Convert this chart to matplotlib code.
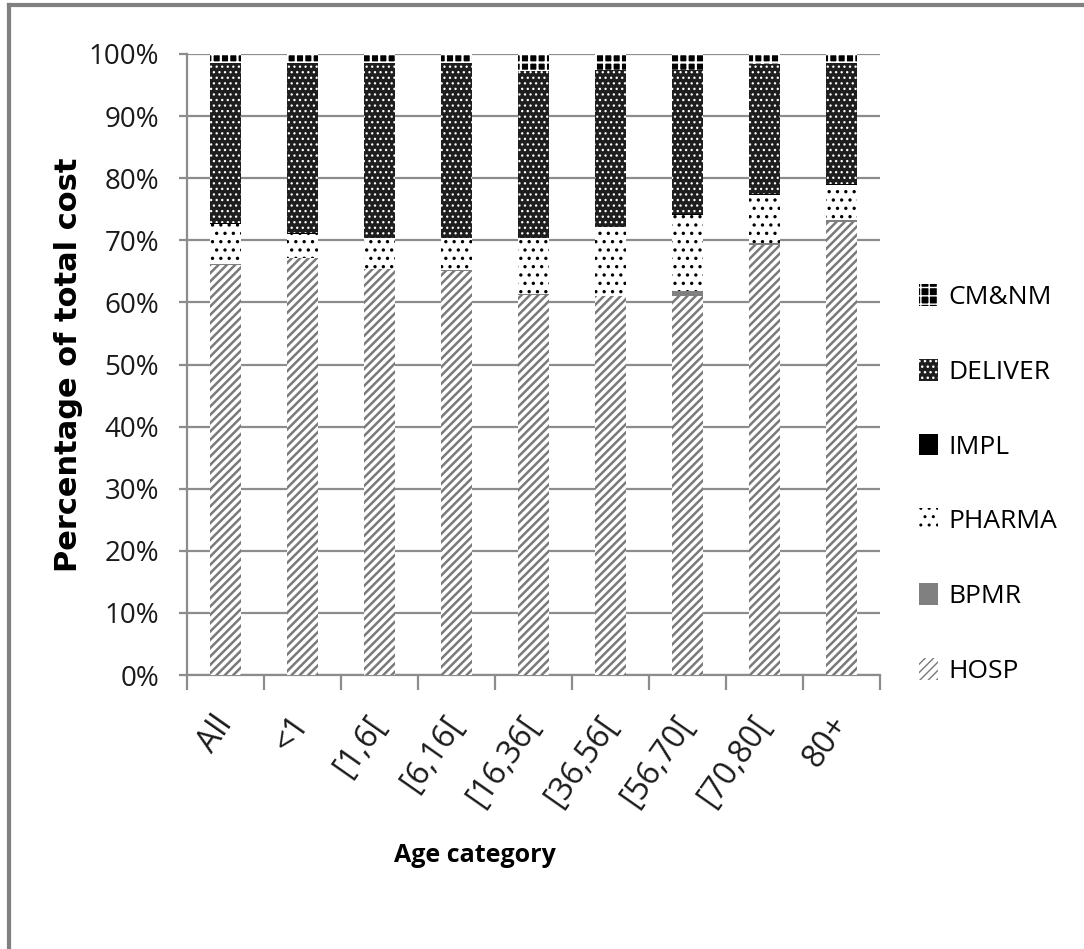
import numpy as np
import matplotlib
matplotlib.use("Agg")
import matplotlib.pyplot as plt
from matplotlib.lines import Line2D

# Share of total cost per age category (%), stacked bottom to top
categories = ["All", "<1", "[1,6[", "[6,16[", "[16,36[", "[36,56[", "[56,70[", "[70,80[", "80+"]
hosp = [66.0, 67.1, 65.3, 65.1, 61.2, 61.0, 61.0, 69.2, 73.0]
bpmr = [0.2, 0.1, 0.1, 0.1, 0.1, 0.1, 0.8, 0.3, 0.2]
pharma = [6.5, 3.8, 4.9, 5.1, 9.0, 11.0, 12.3, 7.8, 5.7]
impl = [0.1, 0.1, 0.1, 0.1, 0.1, 0.1, 0.1, 0.1, 0.1]
deliver = [25.8, 27.5, 28.2, 28.2, 26.9, 25.3, 23.3, 21.0, 19.5]
cmnm = [1.4, 1.4, 1.4, 1.4, 2.7, 2.5, 2.5, 1.6, 1.5]

series = [
    ("HOSP", hosp, dict(facecolor="white", edgecolor="#7a7a7a", hatch="////"), 1.8),
    ("BPMR", bpmr, dict(facecolor="#808080", edgecolor="#808080"), 1.0),
    ("PHARMA", pharma, dict(facecolor="white", edgecolor="black", hatch=".."), 1.2),
    ("IMPL", impl, dict(facecolor="black", edgecolor="black"), 1.0),
    ("DELIVER", deliver, dict(facecolor="#1e1e1e", edgecolor="white", hatch="..."), 0.9),
    ("CM&NM", cmnm, dict(facecolor="black", edgecolor="white", hatch="++"), 1.6),
]

plt.rcParams["font.family"] = ["Open Sans", "DejaVu Sans"]
grid_col = "#8c8c8c"

fig = plt.figure(figsize=(10.84, 9.49), dpi=100)
ax = fig.add_axes([0.1725, 0.2887, 0.8118 - 0.1725, 0.9431 - 0.2887])

x = np.arange(len(categories))
bottom = np.zeros(len(categories))
handles = []
for name, vals, style, hlw in series:
    vals = np.array(vals) / 100.0
    with plt.rc_context({"hatch.linewidth": hlw}):
        bars = ax.bar(x, vals, 0.4, bottom=bottom, linewidth=0, label=name,
                      zorder=3, **style)
        for b in bars:
            if hasattr(b, "set_hatch_linewidth"):
                b.set_hatch_linewidth(hlw)
    handles.append(bars)
    bottom += vals

ax.set_xlim(-0.5, len(categories) - 0.5)
ax.set_ylim(0, 1.0)
ax.set_yticks(np.linspace(0, 1, 11))
ax.set_yticklabels([f"{v}%" for v in range(0, 101, 10)], fontsize=20, color="#1a1a1a")
ax.yaxis.grid(True, color=grid_col, linewidth=1.6, zorder=0)
ax.set_axisbelow(True)

# category labels under the bars, tick marks on the boundaries
ax.set_xticks(x)
ax.set_xticklabels(categories, fontsize=23, rotation=55, ha="right", va="center",
                   rotation_mode="anchor", color="#1a1a1a")
ax.tick_params(axis="x", which="major", length=0, pad=32)
ax.set_xticks(np.arange(-0.5, len(categories)), minor=True)
ax.tick_params(axis="x", which="minor", length=11, width=1.6, color=grid_col)
ax.tick_params(axis="y", length=6, width=1.6, color=grid_col, pad=14)

for s in ["top", "right"]:
    ax.spines[s].set_visible(False)
for s in ["left", "bottom"]:
    ax.spines[s].set_color(grid_col)
    ax.spines[s].set_linewidth(1.6)

ax.set_ylabel("Percentage of total cost", fontsize=22, fontweight="bold",
              family="DejaVu Sans", labelpad=4)
fig.text(0.438, 0.098, "Age category", fontsize=18, fontweight="bold",
         ha="center", va="center")

leg = ax.legend(handles[::-1], [s[0] for s in series][::-1],
                loc="center left", bbox_to_anchor=(0.848, 0.49),
                bbox_transform=fig.transFigure, frameon=False, fontsize=19,
                labelspacing=1.85, handlelength=0.7, handleheight=0.9,
                handletextpad=0.4, borderaxespad=0, borderpad=0)

# outer frame around the figure
fig.add_artist(Line2D([0.008, 0.008], [0.0, 0.995], color="#808080", linewidth=3,
                      transform=fig.transFigure))
fig.add_artist(Line2D([0.008, 1.0], [0.995, 0.995], color="#808080", linewidth=3,
                      transform=fig.transFigure))

fig.savefig("out.png", dpi=100, facecolor="white")
